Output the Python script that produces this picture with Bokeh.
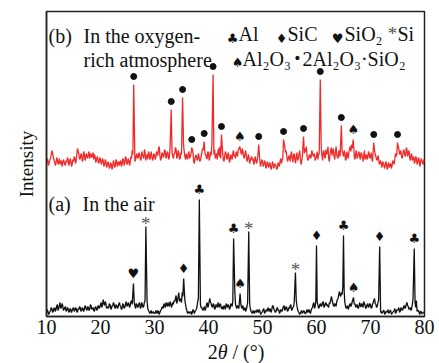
import numpy as np
from bokeh.plotting import figure
from bokeh.models import Range1d, FixedTicker, Label, ColumnDataSource, Div
from bokeh.layouts import column
from bokeh.core.properties import value
from bokeh.embed import file_html
from bokeh.resources import INLINE

# ---------------- data ----------------
scan_start = 10.0
scan_step = 0.25

# (a) In the air – background counts at 10.00, 10.25, ... 80.00
air_background = [
    4, 5, 3, 6, 8, 5, 9, 7, 12, 8, 14, 9, 11, 7, 10, 6, 8, 5, 7, 6,
    9, 6, 8, 5, 7, 9, 6, 8, 7, 10, 6, 9, 7, 11, 8, 6, 9, 7, 10, 8,
    12, 9, 17, 11, 13, 9, 8, 12, 7, 10, 13, 8, 11, 9, 14, 10, 8, 12, 9, 15,
    10, 13, 11, 16, 18, 14, 8, 12, 10, 14, 9, 12, 10, 16, 18, 8, 5, 4, 3, 5,
    4, 6, 3, 5, 4, 7, 10, 13, 9, 12, 14, 10, 13, 11, 12, 15, 21, 16, 24, 18,
    14, 20, 22, 12, 6, 4, 3, 5, 4, 6, 5, 7, 15, 20, 12, 9, 6, 10, 8, 14,
    11, 18, 13, 9, 12, 8, 11, 14, 9, 12, 8, 7, 10, 13, 9, 11, 8, 12, 15, 20,
    12, 8, 10, 14, 12, 8, 6, 9, 7, 14, 18, 8, 4, 6, 3, 5, 7, 4, 6, 3,
    5, 8, 4, 7, 9, 5, 6, 8, 10, 6, 5, 9, 7, 4, 6, 8, 11, 7, 9, 6,
    8, 12, 7, 10, 20, 16, 7, 4, 3, 6, 4, 5, 3, 7, 5, 4, 6, 9, 14, 10,
    18, 12, 9, 13, 11, 15, 10, 14, 12, 9, 13, 20, 14, 10, 12, 15, 18, 25, 20, 22,
    18, 14, 8, 11, 9, 13, 12, 14, 12, 9, 12, 8, 14, 10, 12, 15, 11, 9, 13, 10,
    12, 9, 14, 18, 12, 10, 16, 7, 5, 4, 6, 3, 5, 7, 4, 6, 3, 5, 8, 4,
    6, 9, 5, 8, 7, 11, 9, 14, 10, 8, 6, 12, 8, 14, 16, 6, 4, 5, 3, 4,
    5,
]
# (a) background counts at 10.125, 10.375, ... 79.875
air_background_mid = [
    7, 2, 5, 9, 4, 8, 5, 10, 6, 11, 8, 13, 6, 9, 5, 9, 4, 8, 4, 8,
    5, 9, 4, 8, 10, 5, 9, 5, 11, 7, 10, 6, 12, 7, 9, 5, 10, 6, 11, 9,
    14, 12, 13, 15, 8, 10, 13, 9, 11, 14, 9, 12, 8, 12, 11, 7, 13, 8, 12, 11,
    14, 9, 15, 12, 20, 11, 13, 9, 13, 8, 14, 9, 14, 12, 15, 6, 3, 6, 4, 3,
    3, 4, 6, 2, 6, 9, 8, 11, 14, 10, 11, 15, 9, 14, 16, 18, 13, 20, 15, 17,
    24, 24, 16, 8, 3, 5, 4, 2, 7, 3, 6, 10, 18, 30, 9, 7, 8, 6, 12, 9,
    15, 14, 10, 13, 7, 12, 9, 11, 13, 8, 10, 11, 7, 11, 12, 7, 13, 10, 17, 25,
    10, 11, 8, 16, 9, 11, 7, 5, 10, 16, 12, 5, 3, 4, 6, 4, 5, 7, 2, 4,
    7, 3, 6, 5, 7, 8, 4, 11, 7, 4, 8, 6, 3, 7, 5, 10, 6, 10, 5, 9,
    11, 6, 9, 14, 28, 11, 5, 2, 5, 3, 6, 3, 5, 4, 7, 3, 8, 12, 8, 15,
    14, 8, 12, 10, 14, 9, 13, 11, 10, 14, 16, 17, 11, 13, 10, 17, 22, 21, 24, 30,
    25, 10, 9, 7, 12, 10, 15, 11, 13, 10, 9, 11, 10, 13, 9, 13, 8, 12, 9, 13,
    8, 12, 16, 13, 9, 14, 22, 4, 3, 6, 2, 5, 4, 3, 6, 2, 4, 6, 3, 7,
    7, 4, 9, 6, 10, 8, 12, 11, 7, 9, 8, 18, 30, 9, 5, 6, 2, 5, 3, 4,
]
air_peak_pos = [26.1, 28.4, 35.4, 38.3, 44.65, 45.85, 47.45, 56.1, 60.0, 65.0, 66.85, 71.7, 78.1]
air_peak_int = [33, 90, 38, 117, 78, 23, 85, 44, 71, 81, 19, 70, 68]
air_peak_phase = ["SiO2", "Si", "SiC", "Al", "Al", "Al2O3", "Si", "Si", "SiC", "Al", "Al2O3", "SiC", "Al"]

# (b) In the oxygen-rich atmosphere – offset trace, at 10.00, 10.25, ... 80.00
oxy_background = [
    152, 156, 154, 158, 166, 160, 155, 153, 157, 154, 152, 156, 153, 155, 151, 154, 157, 153, 156, 152,
    155, 158, 156, 168, 162, 158, 161, 157, 163, 159, 160, 162, 158, 163, 161, 157, 160, 156, 158, 155,
    157, 154, 156, 152, 155, 151, 153, 149, 152, 150, 154, 151, 155, 153, 151, 156, 152, 157, 154, 158,
    153, 156, 154, 158, 162, 160, 157, 163, 159, 161, 156, 162, 158, 165, 160, 157, 163, 159, 161, 158,
    162, 159, 164, 168, 161, 158, 163, 161, 165, 160, 163, 159, 166, 164, 158, 163, 167, 160, 164, 158,
    162, 168, 165, 157, 160, 162, 158, 162, 160, 155, 158, 161, 157, 160, 156, 163, 166, 159, 162, 158,
    163, 159, 161, 168, 162, 158, 163, 165, 160, 158, 162, 157, 160, 163, 158, 161, 156, 159, 163, 160,
    158, 163, 166, 171, 164, 168, 160, 163, 161, 157, 159, 156, 160, 158, 154, 157, 155, 159, 156, 153,
    155, 152, 154, 150, 153, 151, 149, 152, 150, 153, 151, 148, 152, 155, 153, 158, 162, 164, 160, 157,
    159, 162, 158, 161, 157, 160, 156, 162, 159, 155, 158, 163, 165, 160, 157, 162, 159, 164, 161, 156,
    160, 157, 162, 158, 161, 164, 160, 167, 163, 158, 162, 169, 165, 160, 164, 162, 158, 163, 168, 165,
    160, 163, 158, 161, 164, 170, 172, 166, 160, 163, 158, 162, 160, 164, 159, 161, 157, 162, 159, 163,
    160, 158, 163, 166, 160, 156, 158, 154, 152, 155, 151, 153, 150, 152, 149, 153, 151, 155, 158, 160,
    165, 168, 163, 160, 162, 165, 160, 167, 164, 159, 161, 156, 160, 155, 158, 154, 157, 153, 156, 152,
    155,
]
# (b) at 10.125, 10.375, ... 79.875
oxy_background_mid = [
    158, 151, 157, 162, 163, 156, 151, 159, 152, 158, 155, 150, 157, 152, 156, 159, 151, 158, 150, 157,
    160, 153, 163, 165, 157, 163, 155, 165, 156, 163, 158, 165, 161, 159, 164, 162, 154, 160, 153, 159,
    152, 158, 150, 157, 149, 155, 148, 154, 147, 156, 149, 157, 150, 155, 154, 150, 158, 151, 160, 152,
    158, 151, 160, 166, 170, 155, 161, 158, 164, 157, 165, 160, 167, 156, 162, 165, 157, 165, 156, 163,
    157, 165, 161, 170, 156, 164, 159, 167, 158, 165, 157, 168, 175, 160, 163, 169, 158, 166, 157, 164,
    170, 172, 160, 163, 157, 165, 160, 175, 164, 153, 161, 156, 163, 155, 160, 168, 180, 162, 158, 165,
    156, 165, 172, 180, 167, 160, 157, 168, 170, 185, 164, 155, 165, 157, 164, 154, 162, 157, 166, 162,
    165, 160, 168, 172, 162, 165, 158, 166, 155, 162, 153, 158, 156, 152, 160, 153, 160, 170, 150, 157,
    150, 156, 148, 155, 149, 154, 147, 155, 148, 152, 147, 154, 150, 158, 156, 163, 170, 166, 155, 161,
    155, 165, 154, 163, 153, 164, 158, 166, 152, 160, 156, 168, 170, 156, 161, 158, 166, 160, 163, 158,
    165, 163, 170, 170, 156, 166, 158, 163, 170, 155, 166, 161, 168, 157, 170, 159, 166, 160, 175, 163,
    166, 156, 165, 158, 168, 165, 168, 175, 157, 166, 160, 165, 157, 163, 155, 166, 160, 157, 165, 158,
    164, 155, 168, 162, 157, 161, 152, 156, 149, 153, 148, 155, 147, 154, 151, 148, 156, 152, 163, 162,
    170, 162, 166, 158, 167, 161, 169, 160, 166, 156, 163, 158, 153, 160, 152, 159, 150, 158, 154, 157,
]
oxy_peak_pos = [26.15, 33.1, 35.2, 36.9, 39.2, 40.85, 42.4, 45.8, 49.3, 53.9, 57.6, 60.7, 64.6, 66.8, 70.6, 75.0]
oxy_peak_int = [232, 207, 219, 169, 175, 242, 182, 170, 172, 177, 180, 237, 191, 177, 174, 174]
oxy_peak_phase = ["M", "M", "M", "M", "M", "M", "M", "Al2O3", "M", "M", "M", "M", "M", "Al2O3", "M", "M"]

x_ticks = [10, 20, 30, 40, 50, 60, 70, 80]

# ---------------- helpers ----------------
SYMBOL = {"Al": "\u2663", "SiC": "\u2666", "SiO2": "\u2665", "Si": "*", "Al2O3": "\u2660", "M": "\u2022"}


def build_trace(background, background_mid, peak_pos, peak_int):
    gx = scan_start + scan_step * np.arange(len(background))
    mx = scan_start + scan_step / 2 + scan_step * np.arange(len(background_mid))
    bx = np.concatenate([gx, mx])
    by = np.concatenate([np.array(background, float), np.array(background_mid, float)])
    pp = np.array(peak_pos)
    keep = np.array([np.min(np.abs(pp - x)) > 0.12 for x in bx])
    xs = np.concatenate([bx[keep], pp])
    ys = np.concatenate([by[keep], np.array(peak_int, dtype=float)])
    order = np.argsort(xs, kind="stable")
    return xs[order], ys[order]


FONT = "Liberation Serif, Times New Roman, Times, DejaVu Serif, serif"
SYMFONT = "DejaVu Sans"
p = figure(width=439, height=342, output_backend="svg", toolbar_location=None,
           x_range=Range1d(10, 80), y_range=Range1d(0, 305),
           min_border_left=46, min_border_right=15, min_border_top=11, min_border_bottom=26)
p.grid.visible = False
p.background_fill_color = "white"
p.border_fill_color = "white"
p.outline_line_color = "#222222"
p.outline_line_width = 1.5

# traces
ax, ay = build_trace(air_background, air_background_mid, air_peak_pos, air_peak_int)
ox, oy = build_trace(oxy_background, oxy_background_mid, oxy_peak_pos, oxy_peak_int)
p.line(ox, oy, line_color="#ee2b2b", line_width=1.3)
p.line(ax, ay, line_color="#111111", line_width=1.3)


# phase markers above peaks
def add_markers(pos, inten, phase):
    suits = dict(x=[], y=[], t=[])
    stars = dict(x=[], y=[])
    dots = dict(x=[], y=[])
    for x, y, ph in zip(pos, inten, phase):
        if ph == "Si":
            stars["x"].append(x); stars["y"].append(y)
        elif ph == "M":
            dots["x"].append(x); dots["y"].append(y)
        else:
            suits["x"].append(x); suits["y"].append(y); suits["t"].append(SYMBOL[ph])
    if suits["x"]:
        src = ColumnDataSource(dict(x=suits["x"], y=[v + 10 for v in suits["y"]], t=suits["t"]))
        p.text(x="x", y="y", text="t", source=src, text_font=value(SYMFONT),
               text_font_size=value("13px"), text_align="center", text_baseline="middle",
               text_color="#111111")
    if stars["x"]:
        src = ColumnDataSource(dict(x=stars["x"], y=[v + 3 for v in stars["y"]], t=["*"] * len(stars["x"])))
        p.text(x="x", y="y", text="t", source=src, text_font=value(FONT),
               text_font_size=value("19px"), text_align="center", text_baseline="alphabetic",
               text_color="#555555")
    if dots["x"]:
        p.scatter(dots["x"], [v + 8 for v in dots["y"]], size=6, color="#111111")


add_markers(air_peak_pos, air_peak_int, air_peak_phase)
add_markers(oxy_peak_pos, oxy_peak_int, oxy_peak_phase)

# axes
p.xaxis.ticker = FixedTicker(ticks=x_ticks)
p.xaxis.major_tick_out = 0
p.xaxis.major_tick_in = 0
p.xaxis.minor_tick_line_color = None
p.xaxis.major_label_standoff = 3
p.xaxis.major_label_text_font = FONT
p.xaxis.major_label_text_font_size = "20px"
p.xaxis.major_label_text_color = "#111111"
p.xaxis.axis_line_color = "#222222"
p.xaxis.axis_line_width = 1.5

p.yaxis.ticker = FixedTicker(ticks=[])
p.yaxis.major_tick_out = 0
p.yaxis.major_tick_in = 0
p.yaxis.minor_tick_line_color = None
p.yaxis.axis_label = "Intensity"
p.yaxis.axis_label_text_font = FONT
p.yaxis.axis_label_text_font_size = "19px"
p.yaxis.axis_label_text_font_style = "normal"
p.yaxis.axis_label_text_color = "#111111"
p.yaxis.axis_label_standoff = 10
p.yaxis.axis_line_color = "#222222"
p.yaxis.axis_line_width = 1.5


def px2x(px):
    return 10 + (px - 46) / 5.4


def lab(px, y, text, size="20px", style="normal", font=FONT, baseline="alphabetic", align="left", color="#111111"):
    p.add_layout(Label(x=px2x(px), y=y, text=text, text_font=font, text_font_size=size,
                       text_font_style=style, text_baseline=baseline, text_align=align,
                       text_color=color))


# panel annotations
lab(48, 281, "(b)")
lab(83, 281, "In the oxygen-")
lab(83, 257, "rich atmosphere")
lab(48, 113, "(a)")
lab(82, 113, "In the air")

# legend of phases
LINE1 = 283
LINE2 = 258
lab(232, LINE1 - 5, "\u2663", size="13px", font=SYMFONT, align="center")
lab(238, LINE1, "Al")
lab(281, LINE1 - 5, "\u2666", size="13px", font=SYMFONT, align="center")
lab(287, LINE1, "SiC")
lab(337, LINE1 - 5, "\u2665", size="13px", font=SYMFONT, align="center")
lab(344, LINE1, "SiO\u2082")
lab(392, LINE1, "*", size="19px", align="center", color="#555555")
lab(397, LINE1, "Si")
lab(237, LINE2 - 4, "\u2660", size="13px", font=SYMFONT, align="center")
lab(242, LINE2, "Al\u2082O\u2083")
lab(297, LINE2 + 1, "\u2022", size="14px", font=SYMFONT, align="center")
lab(302, LINE2, "2Al\u2082O\u2083\u00b7SiO\u2082")

# x-axis title with italic theta
xtitle = Div(text="2<i>\u03b8</i> / (\u00b0)", width=406, height=21, margin=(0, 0, 0, 33),
             styles={"font-family": "'Liberation Serif', 'Times New Roman', serif",
                     "font-size": "20px", "line-height": "21px", "text-align": "center",
                     "color": "#111111"})

layout = column(p, xtitle, spacing=0)
open("out.html", "w").write(file_html(layout, INLINE))
